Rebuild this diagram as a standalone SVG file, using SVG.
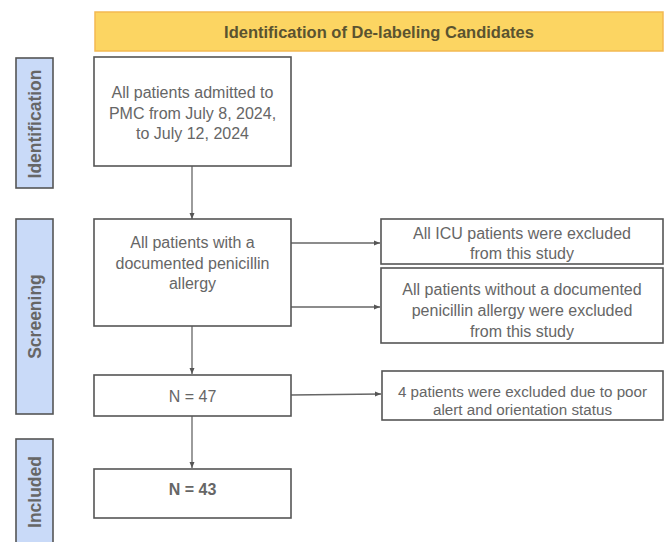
<svg xmlns="http://www.w3.org/2000/svg" width="666" height="542" viewBox="0 0 666 542">
<defs>
<marker id="ah" viewBox="0 0 6 6" refX="6" refY="3" markerWidth="6" markerHeight="6" markerUnits="userSpaceOnUse" orient="auto">
<path d="M0,0.5 L6,3 L0,5.5 Z" fill="#555"/>
</marker>
<style>
.box{fill:#fff;stroke:#555;stroke-width:1.6}
.side{fill:#c9daf8;stroke:#555;stroke-width:1.6}
.t{font-family:"Liberation Sans",Arial,sans-serif;font-size:16px;fill:#666;text-anchor:middle}
.s{font-size:15.2px}
.b{font-weight:bold}
.st{font-family:"Liberation Sans",Arial,sans-serif;font-size:17.5px;font-weight:bold;fill:#666;text-anchor:middle}
.c{stroke:#666;stroke-width:1.3;fill:none;marker-end:url(#ah)}
</style>
</defs>
<rect width="666" height="542" fill="#fff"/>
<g id="banner">
<rect x="95" y="12" width="568" height="39" fill="#fcd562" stroke="#f3b952" stroke-width="1.5"/>
<text x="379" y="37.5" class="t b" style="font-size:16.5px;fill:#5a5330">Identification of De-labeling Candidates</text>
</g>
<g id="side-identification">
<rect x="16" y="58" width="37" height="130" class="side"/>
<text class="st" transform="translate(41,124) rotate(-90)">Identification</text>
</g>
<g id="side-screening">
<rect x="16" y="219" width="37" height="195" class="side"/>
<text class="st" transform="translate(41,316.5) rotate(-90)">Screening</text>
</g>
<g id="side-included">
<rect x="16" y="439" width="37" height="110" class="side"/>
<text class="st" transform="translate(41,492) rotate(-90)">Included</text>
</g>
<g id="connectors">
<line x1="192" y1="166" x2="192" y2="219" class="c"/>
<line x1="192" y1="326" x2="192" y2="374" class="c"/>
<line x1="192" y1="416" x2="192" y2="468" class="c"/>
<line x1="291" y1="243" x2="380" y2="243" class="c"/>
<line x1="291" y1="307" x2="380" y2="307" class="c"/>
<line x1="291" y1="395" x2="381" y2="394" class="c"/>
</g>
<g id="n-admitted">
<rect x="94" y="57" width="197" height="109" class="box"/>
<text class="t" x="192.5" y="98">All patients admitted to</text>
<text class="t" x="192.5" y="118.5">PMC from July 8, 2024,</text>
<text class="t" x="192.5" y="139">to July 12, 2024</text>
</g>
<g id="n-allergy">
<rect x="94" y="219" width="197" height="107" class="box"/>
<text class="t" x="192.5" y="248">All patients with a</text>
<text class="t" x="192.5" y="268.5">documented penicillin</text>
<text class="t" x="192.5" y="289">allergy</text>
</g>
<g id="n-47">
<rect x="94" y="375" width="197" height="41" class="box"/>
<text class="t" x="192.5" y="402">N = 47</text>
</g>
<g id="n-43">
<rect x="94" y="469" width="197" height="49" class="box"/>
<text class="t b" x="192.5" y="495">N = 43</text>
</g>
<g id="n-icu">
<rect x="381" y="219" width="282" height="45" class="box"/>
<text class="t" x="522" y="239">All ICU patients were excluded</text>
<text class="t" x="522" y="259">from this study</text>
</g>
<g id="n-noallergy">
<rect x="381" y="268" width="282" height="75" class="box"/>
<text class="t" x="522" y="295">All patients without a documented</text>
<text class="t" x="522" y="316">penicillin allergy were excluded</text>
<text class="t" x="522" y="337">from this study</text>
</g>
<g id="n-poor">
<rect x="382" y="371" width="281" height="49" class="box"/>
<text class="t s" x="522.5" y="397">4 patients were excluded due to poor</text>
<text class="t s" x="522.5" y="415">alert and orientation status</text>
</g>
</svg>
